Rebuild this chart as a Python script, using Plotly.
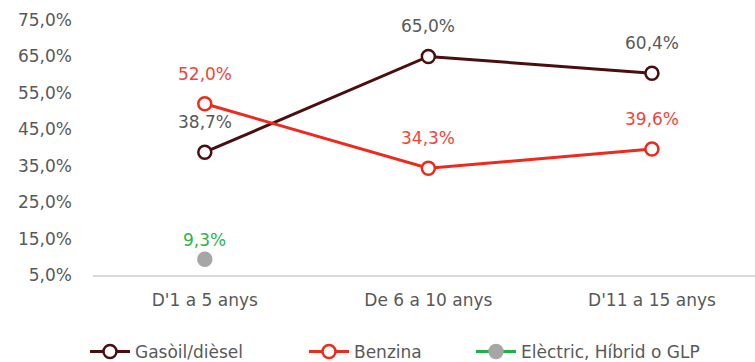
import plotly.graph_objects as go

# Share of vehicles by fuel type and vehicle age
categories = ["D'1 a 5 anys", "De 6 a 10 anys", "D'11 a 15 anys"]
gasoil = [38.7, 65.0, 60.4]
benzina = [52.0, 34.3, 39.6]
electric = [9.3, None, None]
y_ticks = [5, 15, 25, 35, 45, 55, 65, 75]


def pct(v):
    return f"{v:.1f}".replace(".", ",") + "%"


FONT = "DejaVu Sans"
GREY_TXT = "#595959"
FS = 17

series = [
    dict(name="Gasòil/dièsel", values=gasoil, line="#4A0E0E", marker_fill="white",
         marker_line="#4A0E0E", label="#595959", shift=30, legend="legend", lx=85),
    dict(name="Benzina", values=benzina, line="#EE2A1C", marker_fill="white",
         marker_line="#EE2A1C", label="#F0453A", shift=30, legend="legend2", lx=304),
    dict(name="Elèctric, Híbrid o GLP", values=electric, line="#1FB04B", marker_fill="#A6A6A6",
         marker_line="#A6A6A6", label="#2DB34A", shift=19, legend="legend3", lx=471),
]

W, H = 755, 362
fig = go.Figure()
annotations = []
legends = {}
for s in series:
    fig.add_trace(go.Scatter(
        x=categories, y=s["values"], name=s["name"], mode="lines+markers",
        line=dict(color=s["line"], width=3),
        marker=dict(size=13, color=s["marker_fill"],
                    line=dict(color=s["marker_line"], width=2.5)),
        cliponaxis=False, legend=s["legend"],
    ))
    legends[s["legend"]] = dict(
        orientation="h", xref="container", yref="container",
        x=s["lx"] / W, xanchor="left", y=1 - 352 / H, yanchor="middle",
        font=dict(family=FONT, size=FS, color=GREY_TXT), itemwidth=40,
        bgcolor="rgba(0,0,0,0)", borderwidth=0,
    )
    for c, v in zip(categories, s["values"]):
        if v is None:
            continue
        annotations.append(dict(
            x=c, y=v, xref="x", yref="y", yshift=s["shift"], showarrow=False,
            text=pct(v), font=dict(family=FONT, size=FS, color=s["label"]),
        ))

fig.update_layout(
    width=W, height=H,
    margin=dict(l=93, r=0, t=20, b=87),
    paper_bgcolor="white", plot_bgcolor="white",
    font=dict(family=FONT, size=FS, color=GREY_TXT),
    showlegend=True,
    annotations=annotations,
    **legends,
)
fig.update_xaxes(
    type="category", range=[-0.5, 2.461], showgrid=False, zeroline=False,
    showline=True, linecolor="#D9D9D9", linewidth=1.5, ticks="",
    ticklabelstandoff=9, tickfont=dict(family=FONT, size=FS, color=GREY_TXT),
)
fig.update_yaxes(
    range=[5, 75], tickvals=y_ticks, ticktext=[pct(t) for t in y_ticks],
    showgrid=False, zeroline=False, showline=False, ticks="",
    ticklabelstandoff=20, tickfont=dict(family=FONT, size=FS, color=GREY_TXT),
)

fig.write_html("out.html")
